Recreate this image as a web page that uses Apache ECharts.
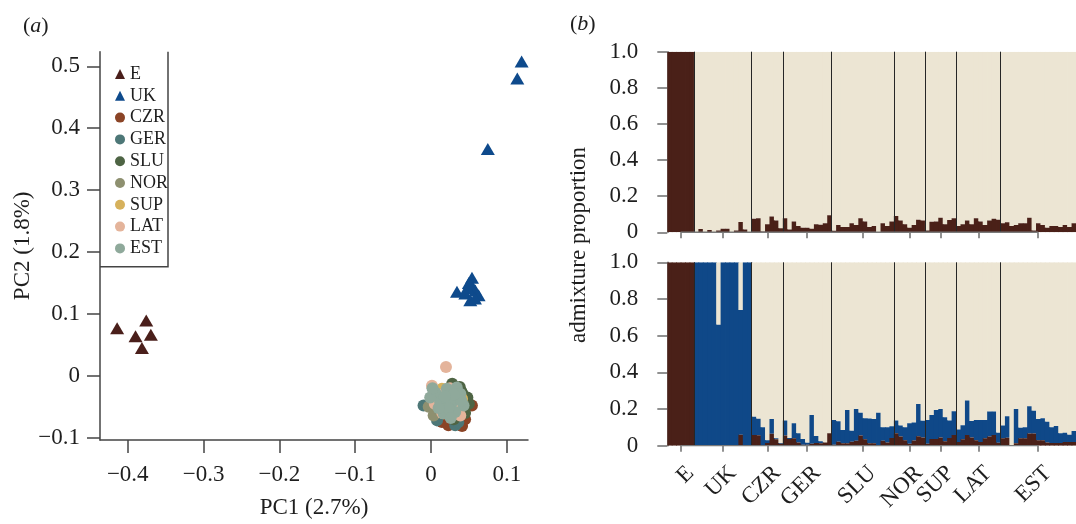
<!DOCTYPE html>
<html>
<head>
<meta charset="utf-8">
<script src="https://cdn.jsdelivr.net/npm/echarts@6/dist/echarts.min.js"></script>
<style>
html,body{margin:0;padding:0;background:#fff;}
#chart{width:1076px;height:524px;}
</style>
</head>
<body>
<div id="chart"></div>
<script>
// ---------- Panel (a): PCA ----------
const pcaNames = ['E','UK','CZR','GER','SLU','NOR','SUP','LAT','EST'];
const pcaColors = ['#4a1f1b','#0e4a8c','#8b4426','#4d7777','#4e6444','#8e9070','#d6b15c','#e4b49b','#8fa99b'];
const ptsE = [[-0.414,0.077],[-0.3756,0.0893],[-0.3897,0.0638],[-0.3695,0.0665],[-0.3813,0.0451]];
const ptsUK = [[0.1196,0.5077],[0.1139,0.4804],[0.075,0.3663],[0.0541,0.1584],[0.054,0.146],[0.0343,0.1356],
  [0.0453,0.133],[0.0628,0.130],[0.0519,0.122],[0.0585,0.138],[0.048,0.142],[0.058,0.125],[0.05,0.15]];
const ptsCZR = [[0.054,-0.048],[0.041,-0.081],[0.0145,-0.0745],[0.023,-0.08],[0.03,-0.06],[0.045,-0.07],[0.02,-0.04]];
const ptsGER = [[-0.0098,-0.048],[0.032,-0.08],[0.008,-0.072],[0.036,-0.075],[0.02,-0.05],[0.03,-0.03],[0.01,-0.04],
  [0.04,-0.055],[0.025,-0.065],[0.015,-0.03],[0.045,-0.04]];
const ptsSLU = [[0.048,-0.035],[0.028,-0.013],[0.05,-0.045],[0.04,-0.025],[0.035,-0.045],[0.02,-0.06],[0.01,-0.025],
  [0.03,-0.07],[0.045,-0.06],[0.015,-0.05],[0.025,-0.035],[0.005,-0.045],[0.038,-0.018],[0.042,-0.03]];
const ptsNOR = [[-0.003,-0.05],[0.0035,-0.064],[0.01,-0.055],[0.02,-0.045],[0.03,-0.05],[0.025,-0.025],[0.005,-0.035]];
const ptsSUP = [[0.0145,-0.021],[0.041,-0.037],[0.02,-0.035],[0.03,-0.045],[0.035,-0.06],[0.01,-0.05],[0.025,-0.055]];
const ptsLAT = [[0.0198,0.0144],[0.0013,-0.016],[0.0387,-0.064],[0.01,-0.03],[0.02,-0.04],[0.03,-0.035],[0.015,-0.06],
  [0.035,-0.05],[0.025,-0.02],[0.005,-0.045]];
const ptsEST = [[0.0057,-0.027],[0.021,-0.021],[0.034,-0.019],[0.0123,-0.0426],[0.0277,-0.0426],[0.043,-0.048],
  [0.0167,-0.061],[0.032,-0.0585],[-0.001,-0.035],[0.023,-0.053],[0.0387,-0.029],[0.01,-0.052],[0.04,-0.04],
  [0.03,-0.03],[0.018,-0.033],[0.026,-0.068],[0.002,-0.02]];
const pcaPoints = [ptsE, ptsUK, ptsCZR, ptsGER, ptsSLU, ptsNOR, ptsSUP, ptsLAT, ptsEST];
const pc1Ticks = [-0.4,-0.3,-0.2,-0.1,0,0.1];
const pc2Ticks = [-0.1,0,0.1,0.2,0.3,0.4,0.5];

// ---------- Panel (b): admixture ----------
const popNames = ['E','UK','CZR','GER','SLU','NOR','SUP','LAT','EST'];
const popSizes = [6,13,7,11,14,7,7,10,17];
// K = 2 : proportion of the dark (E) cluster
const k2Dark = [
  1,1,1,1,1,1,
  0,0.018,0,0.013,0,0.01,0.02,0.02,0,0.01,0.057,0.015,0,
  0.075,0.078,0.005,0.045,0.087,0.065,0.022,
  0.078,0.015,0.06,0.035,0.025,0.025,0.02,0.045,0.042,0.05,0.095,
  0.008,0.04,0.03,0.03,0.05,0.04,0.078,0.06,0.03,0.035,0.002,0.05,0.035,0.06,
  0.09,0.065,0.045,0.025,0.04,0.07,0.065,
  0.01,0.058,0.06,0.08,0.045,0.068,0.078,
  0.035,0.045,0.065,0.045,0.078,0.06,0.04,0.065,0.075,0.07,
  0.05,0.055,0.035,0.04,0.05,0.05,0.08,0.01,0.05,0.04,0.025,0.035,0.035,0.03,0.04,0.03,0.05
];
// K = 3 : dark (E) cluster and blue (UK) cluster
const k3Dark = [
  1,1,1,1,1,1,
  0,0,0,0,0,0,0,0,0,0,0.06,0,0,
  0.058,0.057,0.002,0.015,0.065,0.035,0.01,
  0.055,0.037,0.04,0.018,0.005,0.005,0.01,0.015,0.013,0.018,0.068,
  0.005,0.022,0.013,0.013,0.022,0.027,0.055,0.035,0.013,0.013,0.003,0.027,0.018,0.042,
  0.068,0.05,0.03,0.01,0.028,0.052,0.045,
  0.01,0.036,0.036,0.045,0.024,0.042,0.058,
  0.02,0.035,0.058,0.045,0.03,0.02,0.04,0.05,0.058,0.016,
  0.04,0.044,0,0.013,0.04,0.04,0.067,0.067,0.03,0.03,0.018,0.015,0.015,0.015,0.02,0.02,0.02
];
const k3Blue = [
  0,0,0,0,0,0,
  1,1,1,1,1,0.66,1,1,1,1,0.68,1,1,
  0.1,0.09,0.098,0.015,0.08,0.005,0.005,
  0.082,0.005,0.082,0.05,0.032,0.011,0.158,0.038,0.011,0,0,
  0.135,0.111,0.073,0.182,0.06,0.173,0.125,0.115,0.135,0.133,0.177,0.073,0.082,0.064,
  0.07,0.06,0.07,0.112,0.099,0.176,0.091,
  0.13,0.132,0.159,0.155,0.131,0.095,0.13,
  0.068,0.077,0.188,0.09,0.11,0.12,0.1,0.136,0.128,0.054,
  0.07,0.116,0,0.187,0.058,0.06,0.148,0.123,0.115,0.12,0.112,0.085,0.092,0.053,0.05,0.04,0.06
];

const FONT = '"Liberation Serif","Times New Roman",serif';
const TXT = '#1e1e1e';
const C_DARK = '#4a2018', C_BLUE = '#0f4888', C_BEIGE = '#ece5d3';

const nInd = popSizes.reduce((a,b)=>a+b,0);
const popStarts = []; let acc = 0;
popSizes.forEach(s=>{popStarts.push(acc); acc+=s;});
const popCenters = popStarts.map((s,i)=>s+popSizes[i]/2);
const labelPos = popCenters.map(c=>c+2.2);   // rotated labels end just right of the tick
const boundaries = popStarts.slice(1);
const k2Data = k2Dark.map((d,i)=>[i, d, 0]);
const k3Data = k3Dark.map((d,i)=>[i, d, k3Blue[i]]);

function numFmt(v){
  if (Math.abs(v) < 1e-9) return '0';
  return (v<0?'\u2212':'') + Math.abs(v).toFixed(1);
}
function popLabel(v){
  const i = labelPos.findIndex(c=>Math.abs(c-v)<1e-6);
  return i>=0 ? popNames[i] : '';
}

const chart = echarts.init(document.getElementById('chart'));

const axisA = {color:'#444', width:1.5};
const axisB = {color:'#6e6e6e', width:1.5};
const barLeft = 667.3, barRight = -16.2;

function renderAdmix(params, api){
  const i = api.value(0), d = api.value(1), b = api.value(2);
  const pL = api.coord([i, 0]);
  const pR = api.coord([i+1, 1]);
  const x = pL[0], w = pR[0]-pL[0] + 0.8;
  const y0 = pL[1], yTop = pR[1];
  const yd = api.coord([i, d])[1];
  const yb = api.coord([i, Math.min(1, d+b)])[1];
  const kids = [];
  if (d + b < 1) kids.push({type:'rect', shape:{x, y:yTop, width:w, height:yb-yTop}, style:{fill:C_BEIGE}});
  if (b > 0) kids.push({type:'rect', shape:{x, y:yb, width:w, height:yd-yb}, style:{fill:C_BLUE}});
  if (d > 0) kids.push({type:'rect', shape:{x, y:yd, width:w, height:y0-yd}, style:{fill:C_DARK}});
  return {type:'group', children:kids};
}

const series = [];
pcaNames.forEach((n,i)=>{
  const tri = i<2;
  series.push({
    name:n, type:'scatter', xAxisIndex:0, yAxisIndex:0,
    symbol: tri?'triangle':'circle',
    symbolSize: tri?[14,12]:12,
    itemStyle:{color:pcaColors[i], opacity:1},
    data: pcaPoints[i], silent:true
  });
});
series.push({name:'K2', type:'custom', xAxisIndex:1, yAxisIndex:1, data:k2Data,
  renderItem:renderAdmix, encode:{x:0, y:1}, clip:true, silent:true, z:2});
series.push({name:'K3', type:'custom', xAxisIndex:2, yAxisIndex:2, data:k3Data,
  renderItem:renderAdmix, encode:{x:0, y:1}, clip:true, silent:true, z:2});
function baseLine(xi, yi){
  return {name:'base'+xi, type:'line', xAxisIndex:xi, yAxisIndex:yi, symbol:'none', silent:true,
    data:[[popCenters[0],0],[popCenters[popCenters.length-1],0]],
    lineStyle:{color:'#7a7a7a', width:1.5}, z:6,
    markLine:{silent:true, symbol:'none', label:{show:false}, z:6,
      lineStyle:{color:'#262626', width:1, type:'solid'},
      data: boundaries.map(b=>({xAxis:b}))}
  };
}
series.push(baseLine(1,1));
series.push(baseLine(2,2));

const richTitle = {
  p:{fontFamily:FONT,fontSize:22,color:TXT,fontWeight:'normal'},
  i:{fontFamily:FONT,fontSize:22,fontStyle:'italic',color:TXT,fontWeight:'normal'}
};

const option = {
  animation:false,
  backgroundColor:'#ffffff',
  title:[
    {text:'{p|(}{i|a}{p|)}', left:18, top:10, textStyle:{fontWeight:'normal', rich:richTitle}},
    {text:'{p|(}{i|b}{p|)}', left:565, top:8, textStyle:{fontWeight:'normal', rich:richTitle}}
  ],
  legend:{
    data:pcaNames, orient:'vertical', left:110, top:59,
    itemWidth:10, itemHeight:10, itemGap:1.8,
    textStyle:{fontFamily:FONT, fontSize:18, color:TXT, lineHeight:20},
    selectedMode:false
  },
  grid:[
    {left:100, right:548, top:51.7, bottom:79},
    {left:barLeft, right:barRight, top:51.7, bottom:291.7},
    {left:barLeft, right:barRight, top:262.3, bottom:78.3}
  ],
  xAxis:[
    {type:'value', gridIndex:0, min:-0.4366, max:0.128,
     name:'PC1 (2.7%)', nameLocation:'middle', nameGap:56,
     nameTextStyle:{fontFamily:FONT,fontSize:23,color:TXT},
     axisLine:{show:true, onZero:false, lineStyle:axisA},
     axisTick:{show:true, length:13, lineStyle:axisA, customValues:pc1Ticks},
     axisLabel:{fontFamily:FONT,fontSize:23,color:TXT,margin:23,customValues:pc1Ticks,formatter:numFmt},
     splitLine:{show:false}},
    {type:'value', gridIndex:1, min:0, max:nInd, position:'bottom',
     axisLine:{show:false},
     axisTick:{show:true, length:6, lineStyle:axisB, customValues:popCenters},
     axisLabel:{show:false},
     splitLine:{show:false}},
    {type:'value', gridIndex:2, min:0, max:nInd, position:'bottom',
     axisLine:{show:false},
     axisTick:{show:true, length:6, lineStyle:axisB, customValues:popCenters},
     axisLabel:{show:true, rotate:45, margin:24, fontFamily:FONT, fontSize:23, color:TXT,
       customValues:labelPos, formatter:popLabel},
     splitLine:{show:false}}
  ],
  yAxis:[
    {type:'value', gridIndex:0, min:-0.1037, max:0.5236,
     name:'PC2 (1.8%)', nameLocation:'middle', nameGap:64,
     nameTextStyle:{fontFamily:FONT,fontSize:23,color:TXT},
     axisLine:{show:true, onZero:false, lineStyle:axisA},
     axisTick:{show:true, length:13, lineStyle:axisA, customValues:pc2Ticks},
     axisLabel:{fontFamily:FONT,fontSize:23,color:TXT,margin:20,customValues:pc2Ticks,formatter:numFmt},
     splitLine:{show:false}},
    {type:'value', gridIndex:1, min:0, max:1, interval:0.2, offset:15,
     axisLine:{show:true, lineStyle:axisB},
     axisTick:{show:true, length:10, lineStyle:axisB},
     axisLabel:{fontFamily:FONT,fontSize:23,color:TXT,margin:14,formatter:numFmt},
     splitLine:{show:false}},
    {type:'value', gridIndex:2, min:0, max:1, interval:0.2, offset:15,
     axisLine:{show:true, lineStyle:axisB},
     axisTick:{show:true, length:10, lineStyle:axisB},
     axisLabel:{fontFamily:FONT,fontSize:23,color:TXT,margin:14,formatter:numFmt},
     splitLine:{show:false}}
  ],
  graphic:[
    {type:'polyline', silent:true, z:10,
     shape:{points:[[168,51.7],[168,266.7],[100,266.7]]},
     style:{stroke:'#444', lineWidth:1.5, fill:null}},
    {type:'text', silent:true, x:579, y:245, rotation:Math.PI/2,
     style:{text:'admixture proportion', font:'23px '+FONT, fill:TXT, textAlign:'center', textVerticalAlign:'middle'}}
  ],
  series
};
chart.setOption(option);
</script>
</body>
</html>
